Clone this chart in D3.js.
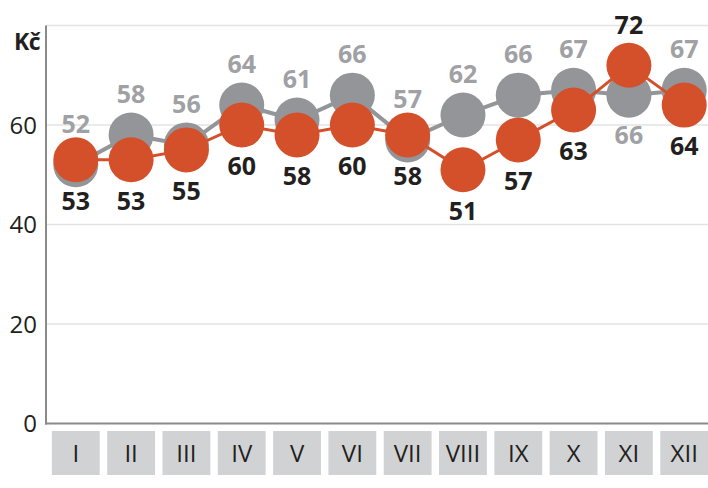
<!DOCTYPE html>
<html>
<head>
<meta charset="utf-8">
<script src="https://cdn.jsdelivr.net/npm/d3@7"></script>
<style>
  body { margin: 0; background: #fff; }
  svg { display: block; font-family: "Open Sans", "Noto Sans", sans-serif; }
</style>
</head>
<body>
<div id="chart"></div>
<script>
// Chart data
const months = ['I', 'II', 'III', 'IV', 'V', 'VI', 'VII', 'VIII', 'IX', 'X', 'XI', 'XII'];
const grayValues = [52, 58, 56, 64, 61, 66, 57, 62, 66, 67, 66, 67];
const orangeValues = [53, 53, 55, 60, 58, 60, 58, 51, 57, 63, 72, 64];
const yTicks = [0, 20, 40, 60, 80];
const unitLabel = 'Kč';

const width = 708;
const height = 488;

const svg = d3.select('#chart')
    .append('svg')
    .attr('width', width)
    .attr('height', height);

const x = d3.scaleBand()
    .domain(months)
    .range([48, 712])
    .paddingInner(0.135)
    .paddingOuter(0.07);

const y = d3.scaleLinear()
    .domain([0, 80])
    .range([423.5, 25.5]);

const cx = m => x(m) + x.bandwidth() / 2;

// Gridlines
svg.append('g')
    .selectAll('line')
    .data(yTicks.filter(t => t > 0))
    .enter()
    .append('line')
    .attr('x1', 46)
    .attr('x2', width)
    .attr('y1', d => y(d))
    .attr('y2', d => y(d))
    .attr('stroke', '#e3e3e3')
    .attr('stroke-width', 1.5);

// Y axis line and baseline
svg.append('line')
    .attr('x1', 46).attr('x2', 46)
    .attr('y1', y(80)).attr('y2', y(0) + 1)
    .attr('stroke', '#8a8a8a').attr('stroke-width', 2);
svg.append('line')
    .attr('x1', 45).attr('x2', width)
    .attr('y1', y(0)).attr('y2', y(0))
    .attr('stroke', '#8a8a8a').attr('stroke-width', 2);

// Y tick labels (80 replaced by unit label)
svg.append('g')
    .selectAll('text')
    .data(yTicks.filter(t => t < 80))
    .enter()
    .append('text')
    .attr('x', 37)
    .attr('y', d => y(d))
    .attr('dy', '0.36em')
    .attr('text-anchor', 'end')
    .attr('font-size', 24)
    .attr('fill', '#231f20')
    .text(d => d);

svg.append('text')
    .attr('x', 40)
    .attr('y', 50)
    .attr('text-anchor', 'end')
    .attr('font-size', 23)
    .attr('font-weight', 700)
    .attr('fill', '#231f20')
    .attr('letter-spacing', -0.5)
    .text(unitLabel);

// Month boxes
const box = svg.append('g')
    .selectAll('g')
    .data(months)
    .enter()
    .append('g');
box.append('rect')
    .attr('x', d => x(d))
    .attr('y', 431)
    .attr('width', x.bandwidth())
    .attr('height', 44)
    .attr('fill', '#d1d2d4');
box.append('text')
    .attr('x', d => cx(d))
    .attr('y', 453)
    .attr('dy', '0.36em')
    .attr('text-anchor', 'middle')
    .attr('font-size', 24)
    .attr('fill', '#231f20')
    .text(d => d);

const line = d3.line()
    .x(d => cx(d.m))
    .y(d => y(d.v));

const grayData = months.map((m, i) => ({ m, v: grayValues[i], other: orangeValues[i] }));
const orangeData = months.map((m, i) => ({ m, v: orangeValues[i], other: grayValues[i] }));

function drawSeries(data, color, lineWidth) {
    svg.append('path')
        .datum(data)
        .attr('d', line)
        .attr('fill', 'none')
        .attr('stroke', color)
        .attr('stroke-width', lineWidth);
    svg.append('g')
        .selectAll('circle')
        .data(data)
        .enter()
        .append('circle')
        .attr('cx', d => cx(d.m))
        .attr('cy', d => y(d.v))
        .attr('r', 22.5)
        .attr('fill', color);
}

drawSeries(grayData, '#939598', 4);
drawSeries(orangeData, '#d4502a', 3);

// Value labels: orange goes above only when it clearly leads the gray series
const orangeAbove = d => d.v - d.other > 3;

svg.append('g')
    .selectAll('text')
    .data(grayData)
    .enter()
    .append('text')
    .attr('x', d => cx(d.m))
    .attr('y', d => y(d.v) + (d.other - d.v > 3 ? 40 : -41))
    .attr('dy', '0.36em')
    .attr('text-anchor', 'middle')
    .attr('font-size', 25)
    .attr('font-weight', 700)
    .attr('fill', '#a0a1a4')
    .text(d => d.v);

svg.append('g')
    .selectAll('text')
    .data(orangeData)
    .enter()
    .append('text')
    .attr('x', d => cx(d.m))
    .attr('y', d => y(d.v) + (orangeAbove(d) ? -40 : 41))
    .attr('dy', '0.36em')
    .attr('text-anchor', 'middle')
    .attr('font-size', 25)
    .attr('font-weight', 700)
    .attr('fill', '#231f20')
    .text(d => d.v);
</script>
</body>
</html>
